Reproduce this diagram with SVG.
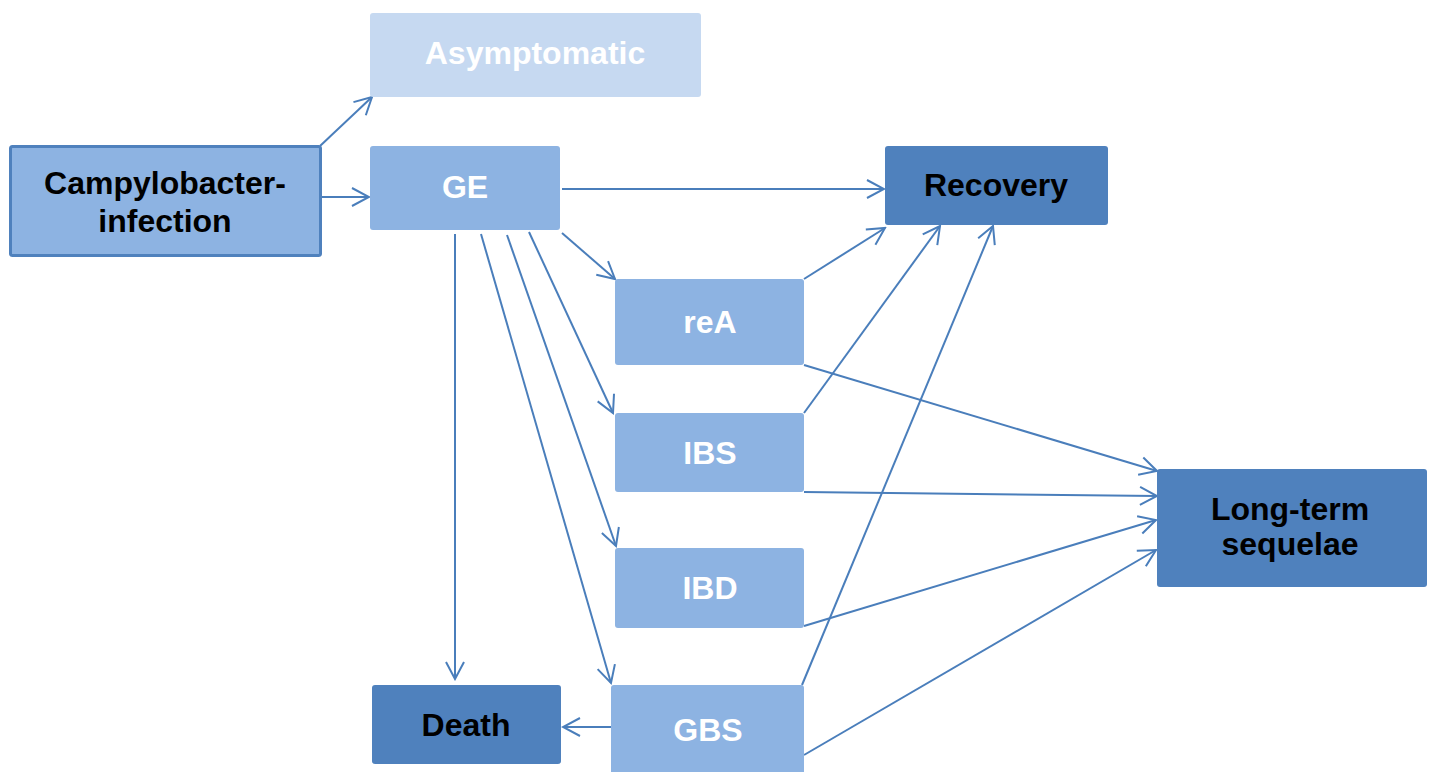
<svg xmlns="http://www.w3.org/2000/svg" width="1430" height="772" viewBox="0 0 1430 772">
<defs>
<style>
.box{stroke:none}
.light{fill:#C6D9F1}
.mid{fill:#8DB3E2}
.dark{fill:#4F81BD}
.t{font-family:"Liberation Sans",Arial,sans-serif;font-weight:bold;font-size:32px;text-anchor:middle}
.w{fill:#FFFFFF}
.k{fill:#000000}
.c{fill:none;stroke:#4A7EBB;stroke-width:2;marker-end:url(#arr)}
</style>
<marker id="arr" markerUnits="userSpaceOnUse" markerWidth="22" markerHeight="22" viewBox="0 0 22 22" refX="20" refY="11" orient="auto">
<path d="M3,2 L20,11 L3,20" fill="none" stroke="#4A7EBB" stroke-width="2"/>
</marker>
</defs>
<rect width="1430" height="772" fill="#FFFFFF"/>
<g id="connectors">
<line class="c" x1="320" y1="146" x2="372" y2="97"/>
<line class="c" x1="322" y1="197" x2="369" y2="197"/>
<line class="c" x1="562" y1="189" x2="884" y2="189"/>
<line class="c" x1="562" y1="233" x2="615" y2="279"/>
<line class="c" x1="529" y1="232" x2="613" y2="413"/>
<line class="c" x1="507" y1="235" x2="616" y2="546"/>
<line class="c" x1="481" y1="234" x2="611" y2="683"/>
<line class="c" x1="455" y1="234" x2="455" y2="679"/>
<line class="c" x1="611" y1="727" x2="563" y2="727"/>
<line class="c" x1="804" y1="279" x2="885" y2="228"/>
<line class="c" x1="804" y1="413" x2="940" y2="226"/>
<line class="c" x1="802" y1="685" x2="993" y2="226"/>
<line class="c" x1="804" y1="365" x2="1157" y2="471"/>
<line class="c" x1="804" y1="492" x2="1157" y2="496"/>
<line class="c" x1="804" y1="626" x2="1156" y2="520"/>
<line class="c" x1="804" y1="755" x2="1156" y2="550"/>
</g>
<g id="node-campylobacter">
<rect x="10.5" y="146.5" width="310" height="109" rx="2" fill="#8DB3E2" stroke="#4F81BD" stroke-width="3"/>
<text class="t k" x="165" y="194">Campylobacter-</text>
<text class="t k" x="165" y="232">infection</text>
</g>
<g id="node-asymptomatic">
<rect class="box light" x="370" y="13" width="331" height="84" rx="3"/>
<text class="t w" x="535" y="64">Asymptomatic</text>
</g>
<g id="node-ge">
<rect class="box mid" x="370" y="146" width="190" height="84" rx="3"/>
<text class="t w" x="465" y="198">GE</text>
</g>
<g id="node-recovery">
<rect class="box dark" x="885" y="146" width="223" height="79" rx="3"/>
<text class="t k" x="996" y="196">Recovery</text>
</g>
<g id="node-rea">
<rect class="box mid" x="615" y="279" width="189" height="86" rx="3"/>
<text class="t w" x="710" y="333">reA</text>
</g>
<g id="node-ibs">
<rect class="box mid" x="615" y="413" width="189" height="79" rx="3"/>
<text class="t w" x="710" y="464">IBS</text>
</g>
<g id="node-ibd">
<rect class="box mid" x="615" y="548" width="189" height="80" rx="3"/>
<text class="t w" x="710" y="599">IBD</text>
</g>
<g id="node-gbs">
<rect class="box mid" x="611" y="685" width="193" height="90" rx="3"/>
<text class="t w" x="708" y="741">GBS</text>
</g>
<g id="node-death">
<rect class="box dark" x="372" y="685" width="189" height="79" rx="3"/>
<text class="t k" x="466" y="736">Death</text>
</g>
<g id="node-longterm">
<rect class="box dark" x="1157" y="469" width="270" height="118" rx="3"/>
<text class="t k" x="1290" y="520">Long-term</text>
<text class="t k" x="1290" y="555">sequelae</text>
</g>
</svg>
